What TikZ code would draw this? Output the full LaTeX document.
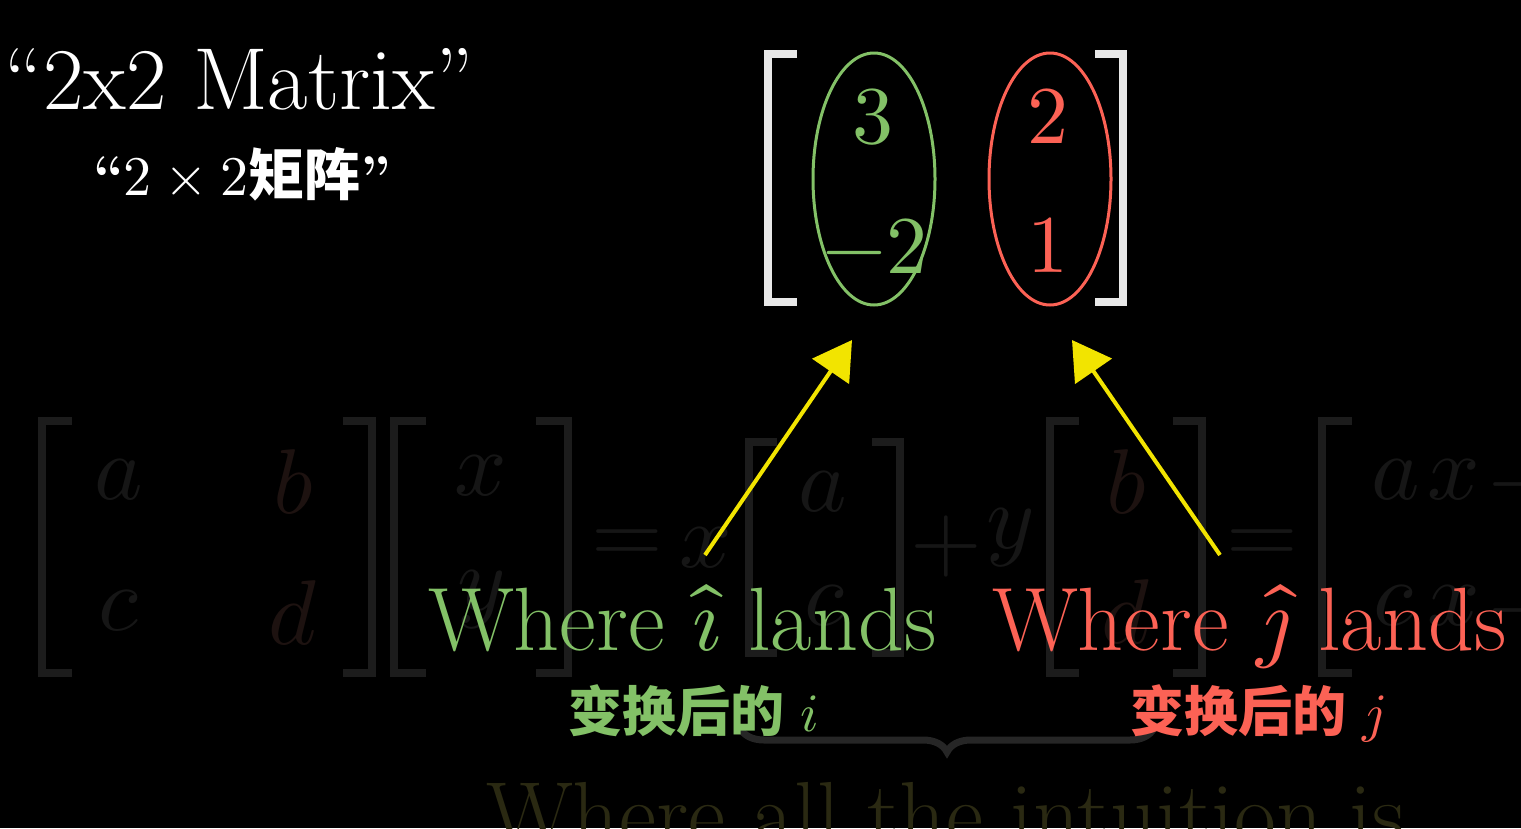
\documentclass[tikz,border=0pt]{standalone}
\usepackage{fontspec}
\usepackage{unicode-math}
\setmathfont{Latin Modern Math}
\newfontfamily\cjk{Noto Sans CJK SC}
\usetikzlibrary{arrows.meta,decorations.pathreplacing,shapes.geometric}
\definecolor{mgreen}{HTML}{83C167}
\definecolor{mred}{HTML}{FC6255}
\definecolor{myellow}{HTML}{F2E400}
\definecolor{bracketw}{HTML}{E8E8E8}
\definecolor{faint}{HTML}{161616}
\definecolor{faintbrc}{HTML}{1C1C1C}
\definecolor{faintr}{HTML}{1D1210}
\definecolor{faintb}{HTML}{262626}
\definecolor{fainty}{HTML}{2A2912}
\newcommand{\fsz}[1]{\fontsize{#1}{#1}\selectfont}
\tikzset{
  txt/.style={inner sep=0pt, outer sep=0pt},
  fainttxt/.style={txt, text=faint, font=\fsz{92}},
  faintbr/.style={draw=faintbrc, line width=8pt, line cap=butt},
  mainbr/.style={draw=bracketw, line width=8pt},
  colring/.style={ellipse, draw, line width=3pt, minimum width=122pt, minimum height=252pt, inner sep=0pt},
  yarrow/.style={draw=myellow, line width=4pt, -{Triangle[length=38pt,width=44pt]}},
}
\begin{document}
\begin{tikzpicture}[x=1pt,y=-1pt]
\fill[black] (0,0) rectangle (1521,828);
\useasboundingbox (0,0) rectangle (1521,828);
\clip (0,0) rectangle (1521,828);

% ---------- faint background equation ----------
\draw[faintbr] (72,421) -- (42,421) -- (42,673) -- (72,673);
\draw[faintbr] (343,421) -- (372,421) -- (372,673) -- (343,673);
\node[fainttxt] (ea) at (119,480) {$a$};
\node[fainttxt, text=faintr] (eb) at (294,482) {$b$};
\node[fainttxt] (ec) at (120,611) {$c$};
\node[fainttxt, text=faintr] (ed) at (294,613) {$d$};
\draw[faintbr] (426,421) -- (394,421) -- (394,673) -- (426,673);
\draw[faintbr] (536,421) -- (568,421) -- (568,673) -- (536,673);
\node[fainttxt] (ex) at (481,476) {$x$};
\node[fainttxt] (ey) at (481,600) {$y$};
\node[fainttxt] (eq1) at (627,547) {$=$};
\node[fainttxt] (ex2) at (706,548) {$x$};
\draw[faintbr] (777,442) -- (749,442) -- (749,653) -- (777,653);
\draw[faintbr] (872,442) -- (900,442) -- (900,653) -- (872,653);
\node[fainttxt] (ea2) at (823,492) {$a$};
\node[fainttxt] (ec2) at (826,606) {$c$};
\node[fainttxt] (plus) at (946,546) {$+$};
\node[fainttxt] (ey2) at (1010,538) {$y$};
\draw[faintbr] (1079,421) -- (1050,421) -- (1050,673) -- (1079,673);
\draw[faintbr] (1173,421) -- (1202,421) -- (1202,673) -- (1173,673);
\node[fainttxt, text=faintr] (eb2) at (1127,482) {$b$};
\node[fainttxt, text=faintr] (ed2) at (1127,612) {$d$};
\node[fainttxt] (eq2) at (1262,547) {$=$};
\draw[faintbr] (1352,421) -- (1322,421) -- (1322,673) -- (1352,673);
\node[fainttxt] (r1a) at (1396,480) {$a$};
\node[fainttxt] (r1x) at (1454,480) {$x$};
\node[fainttxt, anchor=west] (r1p) at (1488,484) {$+$};
\node[fainttxt] (r2c) at (1395,606) {$c$};
\node[fainttxt] (r2x) at (1454,606) {$x$};
\node[fainttxt, anchor=west] (r2p) at (1488,610) {$+$};
\draw[draw=faintb, line width=7pt, decorate, decoration={brace, amplitude=24pt, aspect=0.5}]
  (1154,728) -- (740,728);
\node[txt, anchor=base west, text=fainty, font=\fsz{91}] (intu) at (486,845) {Where all the intuition is};

% ---------- titles ----------
\node[txt, anchor=base west, text=white, font=\fsz{88}] (title) at (5,109) {``2x2 Matrix''};
\node[txt, anchor=base west, text=white, font=\fsz{56}] (subtitle) at (93,195)
  {{\bfseries``}$2\times2${\cjk\bfseries 矩阵}{\bfseries''}};

% ---------- matrix ----------
\draw[mainbr] (797,54) -- (768,54) -- (768,302) -- (797,302);
\draw[mainbr] (1095,54) -- (1123,54) -- (1123,302) -- (1095,302);
\node[colring, draw=mgreen] (gcol) at (874,179) {};
\node[colring, draw=mred] (rcol) at (1050,179) {};
\node[txt, anchor=base, text=mgreen, font=\fsz{82}] (m11) at (873,143) {$3$};
\node[txt, anchor=base, text=mgreen, font=\fsz{82}] (m21) at (875,273) {$-2$};
\node[txt, anchor=base, text=mred, font=\fsz{82}] (m12) at (1048,143) {$2$};
\node[txt, anchor=base, text=mred, font=\fsz{82}] (m22) at (1048,272) {$1$};

% ---------- labels ----------
\node[txt, anchor=base west, text=mgreen, font=\fsz{90}] (wi) at (428,650) {Where $\hat{\imath}$ lands};
\node[txt, anchor=base west, text=mred, font=\fsz{90}] (wj) at (992,650) {Where $\hat{\jmath}$ lands};
\node[txt, anchor=base west, text=mgreen, font=\fsz{54}] (ci) at (568,731) {{\cjk\bfseries 变换后的} $i$};
\node[txt, anchor=base west, text=mred, font=\fsz{54}] (cj) at (1130,731) {{\cjk\bfseries 变换后的} $j$};

% ---------- arrows ----------
\coordinate (istart) at (705,555);
\coordinate (itip) at (852,340);
\coordinate (jstart) at (1220,555);
\coordinate (jtip) at (1072,340);
\draw[yarrow] (istart) -- (itip);
\draw[yarrow] (jstart) -- (jtip);
\end{tikzpicture}
\end{document}
